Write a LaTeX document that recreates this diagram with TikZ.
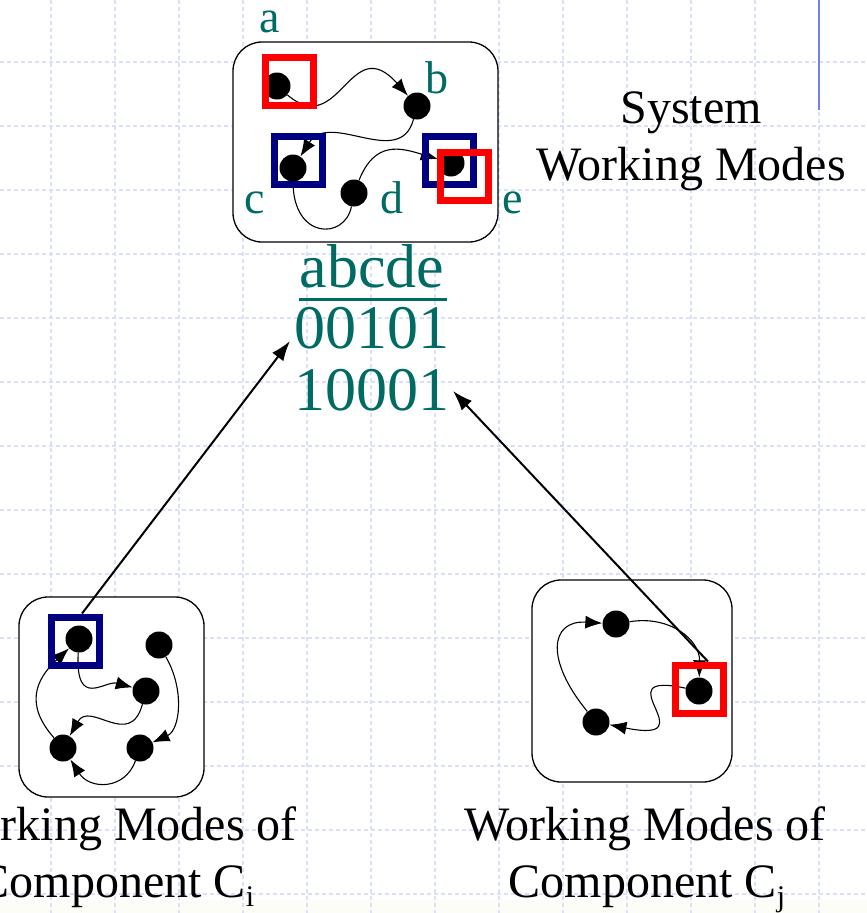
\documentclass[tikz,border=0pt]{standalone}
\usepackage{fontspec}
\setmainfont{Liberation Serif}
\usetikzlibrary{arrows.meta}

\definecolor{gridblue}{RGB}{218,224,252}
\definecolor{barblue}{RGB}{110,130,240}
\definecolor{labelteal}{RGB}{0,107,99}
\definecolor{modered}{RGB}{255,0,0}
\definecolor{modenavy}{RGB}{0,0,128}
\definecolor{footcream}{RGB}{252,253,246}

\tikzset{
  gridline/.style={gridblue, line width=1.1pt, dash pattern=on 4pt off 3pt},
  modebox/.style={draw=black, fill=white, line width=1.3pt, rounded corners=29pt},
  modedot/.style={circle, fill=black, minimum size=27pt, inner sep=0pt},
  redsq/.style={draw=modered, line width=7pt, minimum size=48pt, inner sep=0pt},
  navysq/.style={draw=modenavy, line width=7pt, minimum size=48pt, inner sep=0pt},
  trans/.style={line width=1.1pt, -{Latex[length=17pt,width=13pt]}},
  plainlink/.style={line width=1.1pt},
  maparrow/.style={line width=2pt, -{Latex[length=20pt,width=14pt]}},
  caption/.style={font=\fontsize{48}{57}\selectfont, anchor=base, inner sep=0pt},
  modelabel/.style={font=\fontsize{46}{50}\selectfont, text=labelteal, anchor=base, inner sep=0pt},
  codeline/.style={font=\fontsize{62}{62}\selectfont, text=labelteal, anchor=base, inner sep=0pt}
}

\begin{document}
\begin{tikzpicture}[x=1pt, y=-1pt]
\useasboundingbox (0,0) rectangle (867,913);
\clip (0,0) rectangle (867,913);

% page background with the pale footer strip
\fill[white] (0,0) rectangle (867,913);
\fill[footcream] (0,900) rectangle (867,913);

% dashed background grid
\foreach \gx in {51,115,...,819} \draw[gridline] (\gx,0) -- (\gx,913);
\foreach \gy in {62,126,...,894} \draw[gridline] (0,\gy) -- (867,\gy);

% vertical bar at the upper right
\draw[barblue, line width=2.2pt] (819,0) -- (819,110);

% the three mode boxes
\draw[modebox] (233,42) rectangle (498,242);
\draw[modebox] (19,597) rectangle (204,797);
\draw[modebox] (532,580) rectangle (732,782);

% ---- system working modes ----
\node[modedot] (a) at (277,86) {};
\node[modedot] (b) at (417,106) {};
\node[modedot] (c) at (293,168) {};
\node[modedot] (d) at (354,193) {};
\node[modedot] (e) at (451,163) {};

\draw[trans] (a) .. controls +(63,54) and +(-67,-76) .. (b);
\draw[trans] (b) .. controls +(-17,64) and +(37,-58) .. (c);
\draw[plainlink] (c) .. controls +(0,72) and +(-9,47) .. (d);
\draw[trans] (d) .. controls +(21,-53) and +(-50,-15) .. (e);

\node[redsq] (sqa) at (289,81) {};
\node[navysq] (sqc) at (298,160.5) {};
\node[navysq] (sqe) at (449,160.5) {};
\node[redsq] (sqe2) at (464.5,176.5) {};

\node[modelabel] (la) at (270,32) {a};
\node[modelabel] (lb) at (437,93) {b};
\node[modelabel] (lc) at (255,213) {c};
\node[modelabel] (ld) at (392,213) {d};
\node[modelabel] (le) at (513,213) {e};

% ---- component C_i ----
\node[modedot] (i1) at (79,639) {};
\node[modedot] (i2) at (159,645) {};
\node[modedot] (i3) at (146,691) {};
\node[modedot] (i4) at (63,748) {};
\node[modedot] (i5) at (140,748) {};

\draw[trans] (i1) .. controls +(-4,71) and +(-41,-11) .. (i3);
\draw[trans] (i3) .. controls +(-16,59) and +(27,-48) .. (i4);
\draw[trans] (i2) .. controls +(26,45) and +(40,-18) .. (i5);
\draw[trans] (i5) .. controls +(-15,42) and +(27,42) .. (i4);
\draw[trans] (i4) .. controls +(-38,-43) and +(-44,41) .. (i1);

\node[navysq] (sqi) at (75,641) {};

% ---- component C_j ----
\node[modedot] (j1) at (616,624) {};
\node[modedot] (j2) at (699,691) {};
\node[modedot] (j3) at (596,722) {};

\draw[trans] (j1) .. controls +(54,-9) and +(1,-51) .. (j2);
\draw[trans] (j2) .. controls +(-99,-21) and +(114,23) .. (j3);
\draw[trans] (j3) .. controls +(-51,-62) and +(-66,-4) .. (j1);

\node[redsq] (sqj) at (699,689) {};

% ---- encoding of the system modes ----
\node[codeline] (hdr) at (372,287) {abcde};
\draw[labelteal, line width=3pt] (299,299) -- (447,299);
\node[codeline] (rowi) at (372,348) {00101};
\node[codeline] (rowj) at (372,410) {10001};

\coordinate (tipi) at (290,341);
\coordinate (tipj) at (453,391);
\draw[maparrow] ([xshift=7pt]sqi.north) -- (tipi);
\draw[maparrow] ([xshift=9pt]sqj.north) -- (tipj);

% ---- captions ----
\node[caption] (sys1) at (691,123) {System};
\node[caption] (sys2) at (691,180) {Working Modes};

\node[caption] (ci1) at (116,840) {Working Modes of};
\node[caption] (ci2) at (116,897) {Component C\raisebox{-9pt}{\fontsize{30}{30}\selectfont i}};

\node[caption] (cj1) at (645,840) {Working Modes of};
\node[caption] (cj2) at (647,897) {Component C\raisebox{-9pt}{\fontsize{30}{30}\selectfont j}};
\end{tikzpicture}
\end{document}
